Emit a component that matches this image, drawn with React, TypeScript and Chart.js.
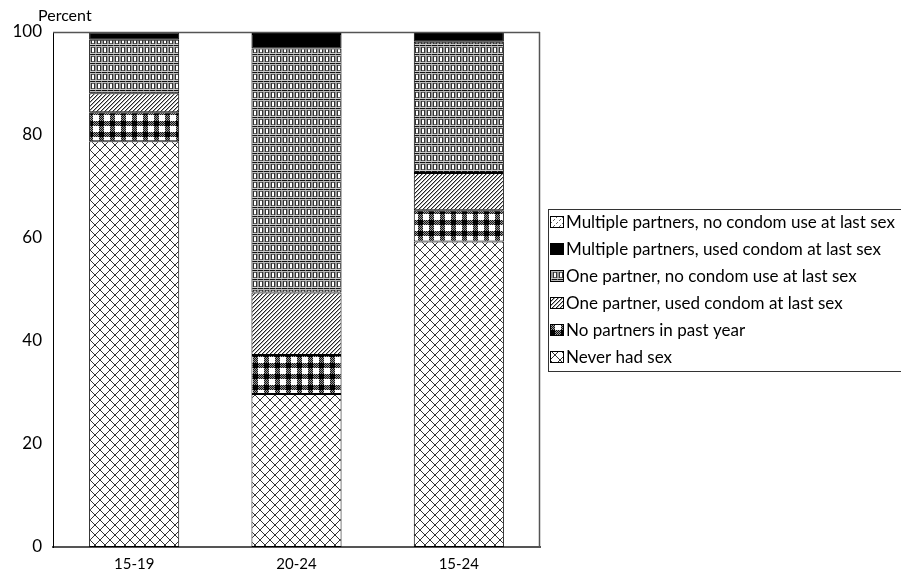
import React, { useEffect, useRef } from "react";
import { Chart, registerables } from "chart.js";

Chart.register(...registerables);

const categories = ["15-19", "20-24", "15-24"];
const neverHadSex = [78.8, 29.7, 59.3];
const noPartners = [5.6, 7.6, 6.1];
const oneUsedCondom = [3.7, 12.1, 7.2];
const oneNoCondom = [10.4, 47.4, 25.5];
const multiUsedCondom = [1.4, 2.8, 1.9];
const multiNoCondom = [0, 0.4, 0];
const yTicks = [0, 20, 40, 60, 80, 100];

const FONT = "Lato, 'Open Sans', sans-serif";

function makeTile(w: number, h: number, draw: (c: CanvasRenderingContext2D) => void) {
  const cv = document.createElement("canvas");
  cv.width = w;
  cv.height = h;
  const c = cv.getContext("2d")!;
  c.fillStyle = "#fff";
  c.fillRect(0, 0, w, h);
  draw(c);
  const main = document.createElement("canvas").getContext("2d")!;
  return main.createPattern(cv, "repeat") as CanvasPattern;
}

function px(c: CanvasRenderingContext2D, x: number, y: number, col: string) {
  c.fillStyle = col;
  c.fillRect(x, y, 1, 1);
}

function patLattice() {
  return makeTile(10, 10, (c) => {
    for (let i = 0; i < 10; i++) {
      px(c, i, i, "#333");
      px(c, 9 - i, i, "#333");
    }
  });
}

function patGingham() {
  return makeTile(11, 11, (c) => {
    for (let y = 0; y < 11; y++) {
      for (let x = 0; x < 11; x++) {
        const inRow = y < 5;
        const inCol = x < 5;
        if (inRow && inCol) px(c, x, y, "#000");
        else if (inRow || inCol) {
          if ((x + y) % 2 === 0) px(c, x, y, "#111");
          else px(c, x, y, "#999");
        }
      }
    }
  });
}

function patDiag() {
  return makeTile(4, 4, (c) => {
    for (let i = 0; i < 4; i++) {
      px(c, 3 - i, i, "#222");
      px(c, (4 - i) % 4, i, "#aaa");
    }
  });
}

function patChain() {
  return makeTile(6, 9, (c) => {
    for (let x = 0; x < 6; x++) px(c, x, 0, x === 5 ? "#777" : "#111");
    for (let x = 0; x < 6; x++) px(c, x, 1, "#bbb");
    for (let y = 2; y <= 7; y++) {
      px(c, 0, y, "#999");
      px(c, 1, y, "#333");
      px(c, 4, y, "#333");
      px(c, 5, y, "#999");
    }
    px(c, 2, 2, "#666");
    px(c, 3, 2, "#666");
    px(c, 2, 7, "#666");
    px(c, 3, 7, "#666");
    for (let x = 0; x < 6; x++) px(c, x, 8, "#ccc");
  });
}

function patLightHatch() {
  return makeTile(6, 6, (c) => {
    for (let i = 0; i < 6; i++) {
      if (i % 3 !== 2) px(c, 5 - i, i, "#666");
    }
  });
}

const framePlugin = {
  id: "frameAndLegend",
  afterDraw(chart: any) {
    const { ctx, chartArea } = chart;
    const { left, right, top, bottom } = chartArea;
    ctx.save();
    ctx.strokeStyle = "#555";
    ctx.lineWidth = 1.5;
    ctx.beginPath();
    ctx.moveTo(left, top + 0.5);
    ctx.lineTo(right, top + 0.5);
    ctx.moveTo(right - 0.5, top);
    ctx.lineTo(right - 0.5, bottom);
    ctx.stroke();

    ctx.fillStyle = "#000";
    ctx.font = `16px ${FONT}`;
    ctx.textAlign = "left";
    ctx.textBaseline = "middle";
    ctx.fillText("Percent", left - 15, top - 16);

    const ds = chart.data.datasets.slice().reverse();
    const rowH = 27;
    const mid = (top + bottom) / 2;
    const n = ds.length;
    const boxTop = mid - (n * rowH) / 2;
    const boxLeft = right + 8;
    ctx.strokeStyle = "#333";
    ctx.lineWidth = 1;
    ctx.strokeRect(boxLeft + 0.5, Math.round(boxTop) + 0.5, 400, n * rowH);
    ctx.font = `17px ${FONT}`;
    ds.forEach((d: any, i: number) => {
      const cy = boxTop + rowH * i + rowH / 2;
      const bx = boxLeft + 2;
      const by = Math.round(cy - 6);
      ctx.fillStyle = d.backgroundColor;
      ctx.fillRect(bx, by, 14, 12);
      ctx.strokeStyle = "#000";
      ctx.strokeRect(bx + 0.5, by + 0.5, 13, 11);
      ctx.fillStyle = "#000";
      ctx.textBaseline = "middle";
      ctx.fillText(d.label, bx + 16, cy + 1);
    });
    ctx.restore();
  },
};

export default function App() {
  const ref = useRef<HTMLCanvasElement>(null);
  useEffect(() => {
    document.body.style.margin = "0";
    const mk = (label: string, data: number[], bg: any) => ({
      label,
      data,
      backgroundColor: bg,
      borderColor: "#000",
      borderWidth: 1,
      borderSkipped: false,
      barPercentage: 0.555,
      categoryPercentage: 1,
    });
    const chart = new Chart(ref.current!, {
      type: "bar",
      data: {
        labels: categories,
        datasets: [
          mk("Never had sex", neverHadSex, patLattice()),
          mk("No partners in past year", noPartners, patGingham()),
          mk("One partner, used condom at last sex", oneUsedCondom, patDiag()),
          mk("One partner, no condom use at last sex", oneNoCondom, patChain()),
          mk("Multiple partners, used condom at last sex", multiUsedCondom, "#000"),
          mk("Multiple partners, no condom use at last sex", multiNoCondom, patLightHatch()),
        ],
      },
      options: {
        animation: false,
        responsive: false,
        devicePixelRatio: 1,
        layout: { padding: { top: 32, right: 361, left: 0, bottom: 0 } },
        plugins: { legend: { display: false }, tooltip: { enabled: false } },
        scales: {
          x: {
            stacked: true,
            grid: { display: false, drawTicks: false },
            border: { display: true, color: "#555", width: 2 },
            ticks: { color: "#000", font: { family: FONT, size: 15 }, padding: 8 },
            afterFit: (s: any) => {
              s.height = 31;
            },
          },
          y: {
            stacked: true,
            min: 0,
            max: 100,
            afterBuildTicks: (s: any) => {
              s.ticks = yTicks.map((v) => ({ value: v }));
            },
            grid: { display: false, drawTicks: false },
            border: { display: true, color: "#000", width: 1 },
            ticks: { color: "#000", font: { family: FONT, size: 17 }, padding: 11 },
            afterFit: (s: any) => {
              s.width = 53;
            },
          },
        },
      },
      plugins: [framePlugin],
    });
    return () => chart.destroy();
  }, []);
  return (
    <div style={{ width: 901, height: 578 }}>
      <canvas ref={ref} width={901} height={578} />
    </div>
  );
}
